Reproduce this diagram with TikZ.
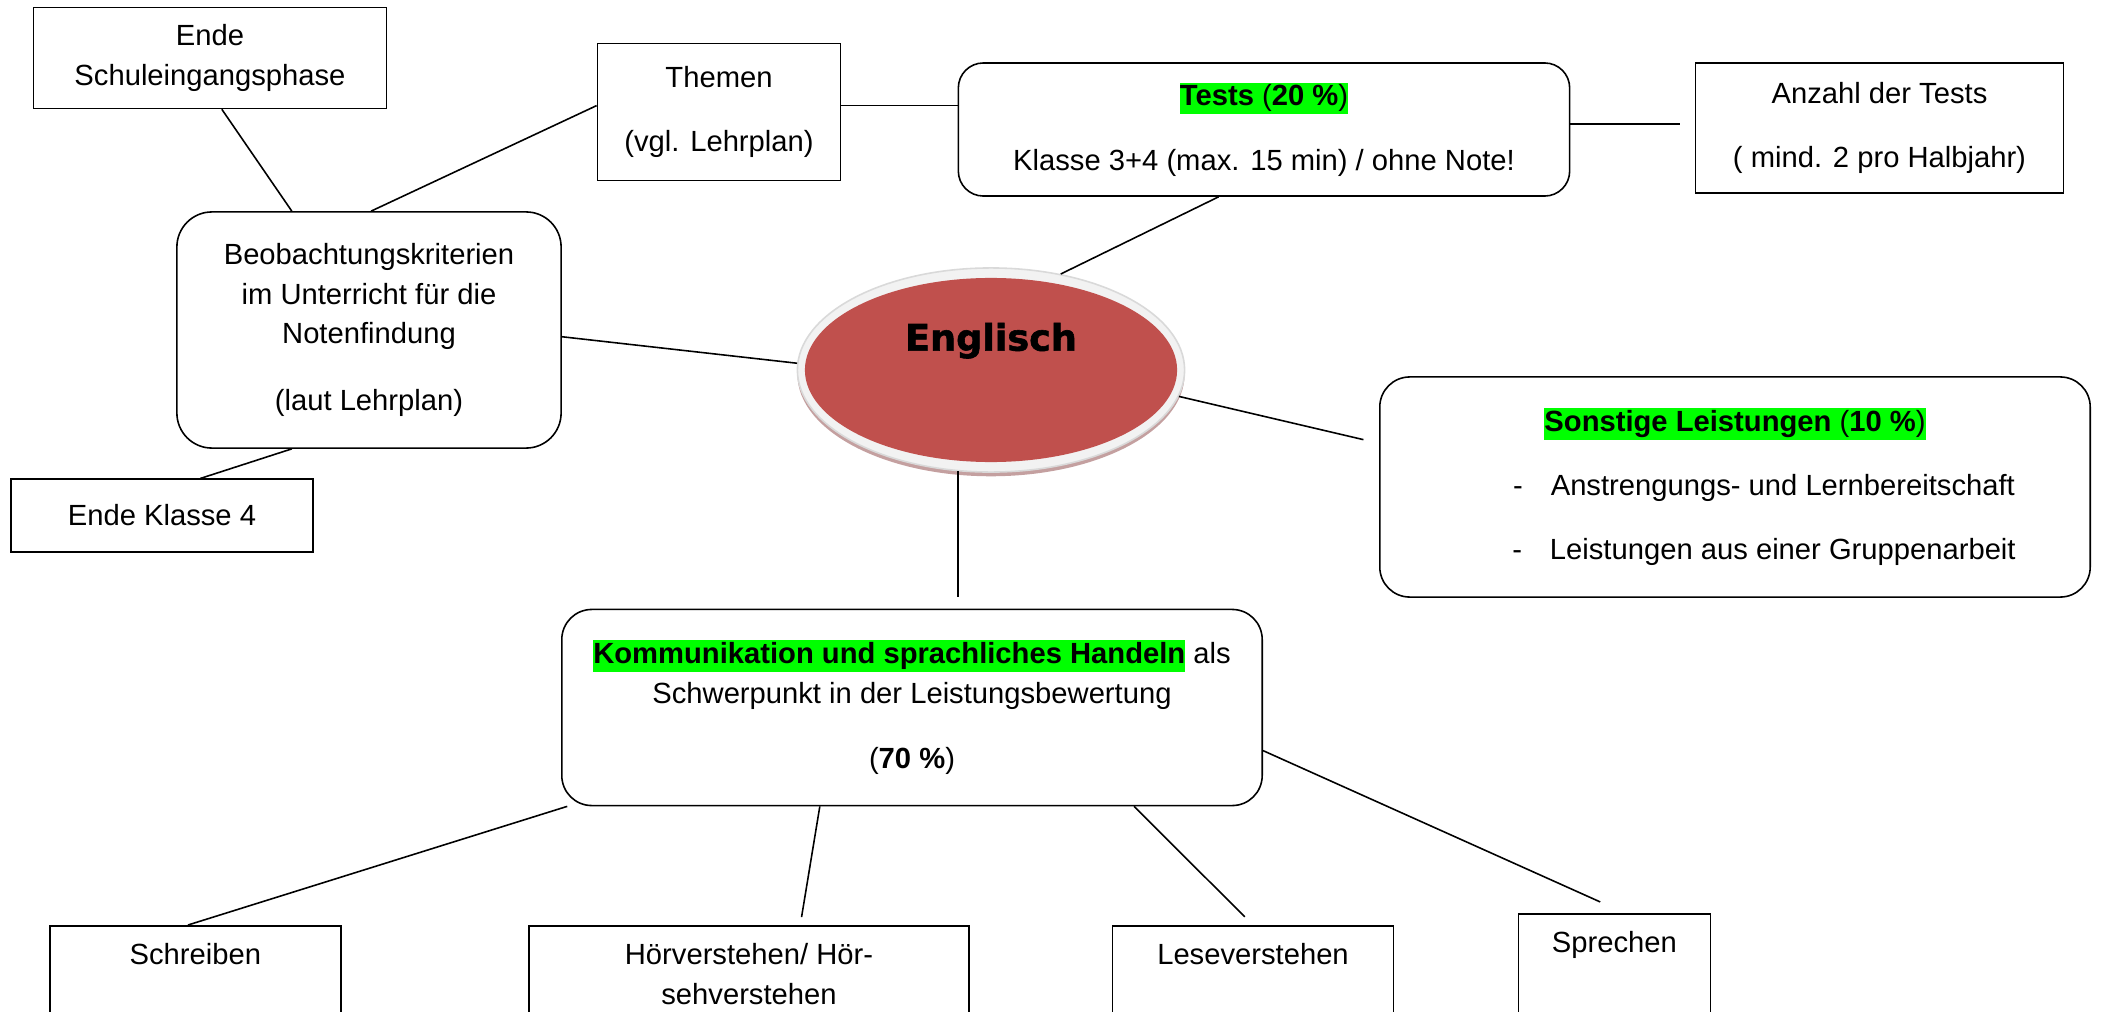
\documentclass[tikz,border=0pt]{standalone}
\usepackage{fontspec}
\setmainfont{Liberation Sans}
\newfontfamily\headfont{DejaVu Sans}[BoldFeatures={FakeBold=1.6}]
\usetikzlibrary{calc,shapes.geometric,shadows}

\definecolor{subjectred}{RGB}{192,80,77}
\definecolor{rimgray}{RGB}{242,242,242}
\definecolor{rimshadow}{RGB}{196,160,160}
\definecolor{markgreen}{RGB}{0,255,0}

\newcommand{\marked}[1]{{\setlength{\fboxsep}{0pt}\colorbox{markgreen}{\rule[-2.4pt]{0pt}{9pt}#1}}}

\begin{document}
\begin{tikzpicture}[x=0.01cm, y=-0.01cm,
    every node/.style={font=\fontsize{8.3}{11.3}\selectfont, align=center},
    box/.style={draw, line width=0.45pt, rectangle, inner sep=0pt},
    roundbox/.style={box, rounded corners=0.3cm},
    skill/.style={box, anchor=north, inner ysep=5pt, text height=6pt, text depth=2cm},
    subject/.style={ellipse, inner sep=0pt, minimum width=3.87cm, minimum height=2.04cm,
        fill=rimgray, draw=black!15, line width=0.45pt,
        drop shadow={shadow xshift=0pt, shadow yshift=-1.2pt, fill=rimshadow, opacity=1},
        path picture={\fill[subjectred] (path picture bounding box.center) ellipse [x radius=1.86cm, y radius=0.92cm];},
        font=\headfont\bfseries\fontsize{10.4}{12}\selectfont, text height=7.9pt, text depth=18.9pt},
    link/.style={line width=0.45pt}]

    \useasboundingbox (0,0) rectangle (2105,1012);
    \clip (0,0) rectangle (2105,1012);

    %% top row
    \node[box, minimum width=3.53cm, minimum height=1.01cm] (ende1) at (210,58) {Ende\\Schuleingangsphase};
    \node[box, minimum width=2.43cm, minimum height=1.37cm] (themen) at (719,112) {Themen\\[7pt](vgl. Lehrplan)};
    \node[roundbox, rounded corners=0.25cm, minimum width=6.11cm, minimum height=1.33cm] (tests) at (1264,129.5)
        {\marked{\textbf{Tests} (\textbf{20 \%})}\\[7pt]Klasse 3+4 (max. 15 min) / ohne Note!};
    \node[box, minimum width=3.68cm, minimum height=1.30cm] (anzahl) at (1879.5,128) {Anzahl der Tests\\[7pt]( mind. 2 pro Halbjahr)};

    %% left side
    \node[roundbox, rounded corners=0.35cm, minimum width=3.84cm, minimum height=2.36cm] (beob) at (369,330)
        {Beobachtungskriterien\\im Unterricht für die\\Notenfindung\\[7.7pt](laut Lehrplan)};
    \node[box, minimum width=3.02cm, minimum height=0.725cm] (ende4) at (162,515.5) {Ende Klasse 4};

    %% centre
    \node[subject] (englisch) at (991,370) {Englisch};

    %% right side
    \node[roundbox, minimum width=7.10cm, minimum height=2.20cm] (sonstige) at (1735,487)
        {\marked{\textbf{Sonstige Leistungen} (\textbf{10 \%})}\\[7pt]
         \hspace*{0.58cm}\makebox[0.376cm][l]{-}Anstrengungs- und Lernbereitschaft\\[7pt]
         \hspace*{0.58cm}\makebox[0.376cm][l]{-}Leistungen aus einer Gruppenarbeit};

    %% main weight
    \node[roundbox, minimum width=7.00cm, minimum height=1.96cm] (kommu) at (912,707.5)
        {\marked{\textbf{Kommunikation und sprachliches Handeln}} als\\Schwerpunkt in der Leistungsbewertung\\[7.3pt](\textbf{70 \%})};

    %% bottom row
    \node[skill, minimum width=2.91cm] (schreiben) at (195.3,925) {Schreiben};
    \node[skill, minimum width=4.40cm] (hoer) at (749,925) {\begin{tabular}[t]{@{}c@{}}Hörverstehen/ Hör-\\sehverstehen\end{tabular}};
    \node[skill, minimum width=2.805cm] (lese) at (1253,925) {Leseverstehen};
    \node[skill, minimum width=1.92cm] (sprechen) at (1614.4,913) {Sprechen};

    %% connectors
    \draw[link] (ende1.-77) -- (beob.123);
    \draw[link] (themen.177) -- (beob.89);
    \draw[link] (themen.3.8) -- (themen.3.8 -| tests.west);
    \draw[link, shorten >=0.146cm] (tests.1.1) -- (tests.1.1 -| anzahl.west);
    \draw[link] (tests.-124) -- (englisch.54);
    \draw[link] (beob.-2) -- (englisch.178.5);
    \draw[link] (beob.-123.4) -- (ende4.44);
    \draw[link, shorten >=0.16cm] (englisch.-8.3) -- (sonstige.173.4);
    \draw[link, shorten >=0.12cm] (englisch.-108.7) -- (englisch.-108.7 |- kommu.north);
    \draw[link] (kommu.-164) -- ($(schreiben.north west)!0.475!(schreiben.north east)$);
    \draw[link, shorten >=0.08cm] (kommu.-133.6) -- ($(hoer.north west)!0.616!(hoer.north east)$);
    \draw[link, shorten >=0.116cm] (kommu.-24.7) -- (lese.north);
    \draw[link, shorten >=0.27cm] (kommu.-7.2) -- ($(sprechen.north west)!0.554!(sprechen.north east)$);
\end{tikzpicture}
\end{document}
